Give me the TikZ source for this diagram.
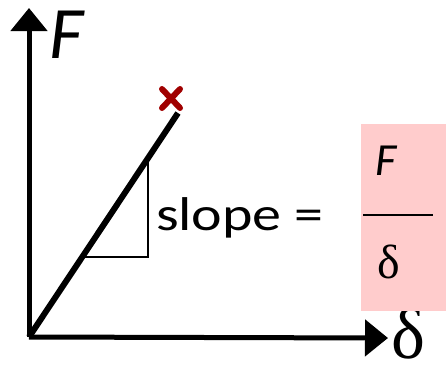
\documentclass[tikz,border=0pt]{standalone}
\usepackage{fontspec}
\setmainfont{Carlito}
\newfontfamily\serifdelta{Liberation Serif}
\usetikzlibrary{arrows.meta,positioning,calc}
\definecolor{slpink}{HTML}{FFCCCC}
\definecolor{slred}{HTML}{A00000}
\definecolor{slink}{HTML}{000000}
\tikzset{
  axis/.style={line width=5pt, color=slink, -{Triangle[length=23pt, width=36pt]}},
  curve/.style={line width=6pt, color=slink},
  tri/.style={line width=2pt, color=slink},
  cross/.style={line width=6pt, color=slred, line cap=round},
  lbl/.style={inner sep=0pt, outer sep=0pt},
}

\begin{document}
\begin{tikzpicture}[x=1pt, y=-1pt]
    \useasboundingbox (0,0) rectangle (446,376);
    % axes
    \coordinate (O) at (29,337);
    \coordinate (ytip) at (29,8);
    \coordinate (xtip) at (388,338);
    \draw[axis] (O) -- (ytip);
    \draw[axis] (O) -- (xtip);
    \node[lbl, anchor=base west, font=\fontsize{74}{74}\selectfont\itshape] (flab) at (49,58) {F};
    \node[lbl, anchor=base west, font=\fontsize{72}{72}\selectfont\serifdelta] (dlab) at (391,358) {δ};
    % load line and failure point
    \coordinate (fail) at (178,113);
    \draw[curve] (O) -- (fail);
    \draw[cross] (162,89) -- (180,108) (180,89) -- (162,108);
    % slope triangle
    \coordinate (ta) at ($(O)!0.357!(fail)$);
    \coordinate (tb) at ($(O)!0.799!(fail)$);
    \coordinate (tc) at (tb |- ta);
    \draw[tri] (ta) -- (tc) -- (tb);
    \node[lbl, anchor=base west, xscale=1.26, yscale=1.03, transform shape, font=\fontsize{46}{46}\selectfont] (slope) at (156,230) {slope =};
    % stiffness box
    \node[fill=slpink, minimum width=85pt, minimum height=187pt, inner sep=0pt, anchor=north west] (frac) at (361,124) {};
    \draw[tri] (363,215) -- (433,215);
    \node[lbl, anchor=base, font=\fontsize{46}{46}\selectfont\itshape] (num) at (386,175) {F};
    \node[lbl, anchor=base, font=\fontsize{48}{48}\selectfont\serifdelta] (den) at (389,278) {δ};
  \end{tikzpicture}
\end{document}
